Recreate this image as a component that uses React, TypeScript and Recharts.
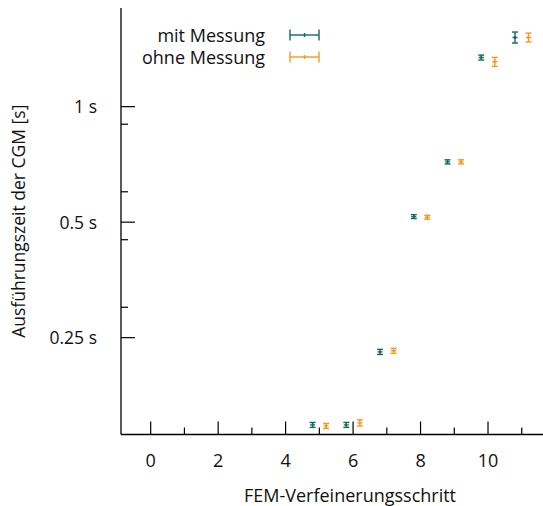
import React from "react";
import { ScatterChart, Scatter, XAxis, YAxis, ErrorBar, Legend } from "recharts";

const steps = [5, 6, 7, 8, 9, 10, 11];
const mitTimes = [0.1481, 0.1481, 0.2295, 0.517, 0.718, 1.343, 1.515];
const mitErr = [0.0022, 0.0022, 0.0035, 0.006, 0.009, 0.02, 0.05];
const ohneTimes = [0.1472, 0.1499, 0.231, 0.515, 0.718, 1.309, 1.515];
const ohneErr = [0.0022, 0.0028, 0.0035, 0.006, 0.009, 0.035, 0.04];

const xTicks = [0, 1, 2, 3, 4, 5, 6, 7, 8, 9, 10, 11];
const yTicks = [0.25, 0.3, 0.45, 0.5, 0.6, 0.9, 1];
const yMajor = [0.25, 0.5, 1];
const yLabels = ["0.25 s", "0.5 s", "1 s"];

const TEAL = "#14695f";
const ORANGE = "#f29a1e";
const FONT = "'Open Sans', 'Noto Sans', sans-serif";

const mitData = steps.map((s, i) => ({ x: s - 0.2, y: mitTimes[i], err: mitErr[i] }));
const ohneData = steps.map((s, i) => ({ x: s + 0.2, y: ohneTimes[i], err: ohneErr[i] }));

const series = [
  { name: "mit Messung", color: TEAL },
  { name: "ohne Messung", color: ORANGE },
];

const BottomTick = ({ x, y, payload }: any) => {
  const major = payload.value % 2 === 0;
  return (
    <g>
      <line x1={x} x2={x} y1={y} y2={y - (major ? 13 : 7)} stroke="#000" strokeWidth={1.2} />
      {major && (
        <text x={x} y={y + 32} textAnchor="middle" fontSize={18} fontFamily={FONT} fill="#111">
          {payload.value}
        </text>
      )}
    </g>
  );
};

const TopTick = ({ x, y, payload }: any) => {
  const major = payload.value % 2 === 0;
  return <line x1={x} x2={x} y1={y} y2={y + (major ? 11 : 7)} stroke="#000" strokeWidth={1.2} />;
};

const LeftTick = ({ x, y, payload }: any) => {
  const idx = yMajor.indexOf(payload.value);
  const major = idx >= 0;
  return (
    <g>
      <line x1={x} x2={x + (major ? 14 : 7)} y1={y} y2={y} stroke="#000" strokeWidth={1.2} />
      {major && (
        <text x={x - 24} y={y + 6.5} textAnchor="end" fontSize={17.5} fontFamily={FONT} fill="#111">
          {yLabels[idx]}
        </text>
      )}
    </g>
  );
};

const Marker = ({ cx, cy, fill }: any) => (
  <g stroke={fill} strokeWidth={1.4}>
    <line x1={cx - 2.5} x2={cx + 2.5} y1={cy} y2={cy} />
    <line x1={cx} x2={cx} y1={cy - 1.5} y2={cy + 1.5} />
  </g>
);

const LegendBox = () => (
  <svg width={543} height={70}>
    {series.map((s, i) => {
      const cy = 35 + i * 22;
      return (
        <g key={s.name}>
          <text x={265} y={cy + 6.5} textAnchor="end" fontSize={18} fontFamily={FONT} fill="#111">
            {s.name}
          </text>
          <g stroke={s.color} strokeWidth={1.4}>
            <line x1={290} x2={319} y1={cy} y2={cy} />
            <line x1={290} x2={290} y1={cy - 5.5} y2={cy + 5.5} />
            <line x1={319} x2={319} y1={cy - 5.5} y2={cy + 5.5} />
            <line x1={304.5} x2={304.5} y1={cy - 2} y2={cy + 2} />
          </g>
        </g>
      );
    })}
  </svg>
);

export default function App() {
  return (
    <div style={{ position: "absolute", left: 0, top: 0 }}>
      <ScatterChart width={543} height={506} margin={{ top: 8, right: 0, bottom: 0, left: 0 }}>
        <XAxis
          xAxisId="bottom"
          dataKey="x"
          type="number"
          domain={[-0.88, 11.63]}
          ticks={xTicks}
          interval={0}
          allowDataOverflow
          height={71.5}
          tickSize={0}
          tickMargin={0}
          tickLine={false}
          axisLine={{ stroke: "#000", strokeWidth: 1.3 }}
          tick={<BottomTick />}
          label={{
            content: () => (
              <text x={350} y={501.5} textAnchor="middle" fontSize={18} fontFamily={FONT} fill="#111">
                FEM-Verfeinerungsschritt
              </text>
            ),
          }}
        />
        <XAxis
          xAxisId="top"
          orientation="top"
          dataKey="x"
          type="number"
          domain={[-0.88, 11.63]}
          ticks={xTicks}
          interval={0}
          allowDataOverflow
          height={0}
          tickSize={0}
          tickMargin={0}
          tickLine={false}
          axisLine={{ stroke: "#000", strokeWidth: 1.3 }}
          tick={<TopTick />}
        />
        <YAxis
          dataKey="y"
          type="number"
          scale="log"
          domain={[0.1398, 1.808]}
          ticks={yTicks}
          interval={0}
          allowDataOverflow
          width={121}
          tickSize={0}
          tickMargin={0}
          tickLine={false}
          axisLine={{ stroke: "#000", strokeWidth: 1.3 }}
          tick={<LeftTick />}
          label={{
            content: (p: any) => {
              const cy = p.viewBox.y + p.viewBox.height / 2;
              return (
                <text
                  x={25}
                  y={cy}
                  transform={`rotate(-90 25 ${cy})`}
                  textAnchor="middle"
                  fontSize={17.5}
                  fontFamily={FONT}
                  fill="#111"
                >
                  Ausführungszeit der CGM [s]
                </text>
              );
            },
          }}
        />
        <Legend
          layout="vertical"
          verticalAlign="middle"
          align="center"
          wrapperStyle={{ top: 0, left: 0, width: 543, height: 70 }}
          content={<LegendBox />}
        />
        <Scatter
          name="mit Messung"
          data={mitData}
          xAxisId="bottom"
          fill={TEAL}
          shape={<Marker />}
          isAnimationActive={false}
        >
          <ErrorBar dataKey="err" direction="y" width={3} stroke={TEAL} strokeWidth={1.4} isAnimationActive={false} />
        </Scatter>
        <Scatter
          name="ohne Messung"
          data={ohneData}
          xAxisId="bottom"
          fill={ORANGE}
          shape={<Marker />}
          isAnimationActive={false}
        >
          <ErrorBar dataKey="err" direction="y" width={3} stroke={ORANGE} strokeWidth={1.4} isAnimationActive={false} />
        </Scatter>
      </ScatterChart>
    </div>
  );
}
